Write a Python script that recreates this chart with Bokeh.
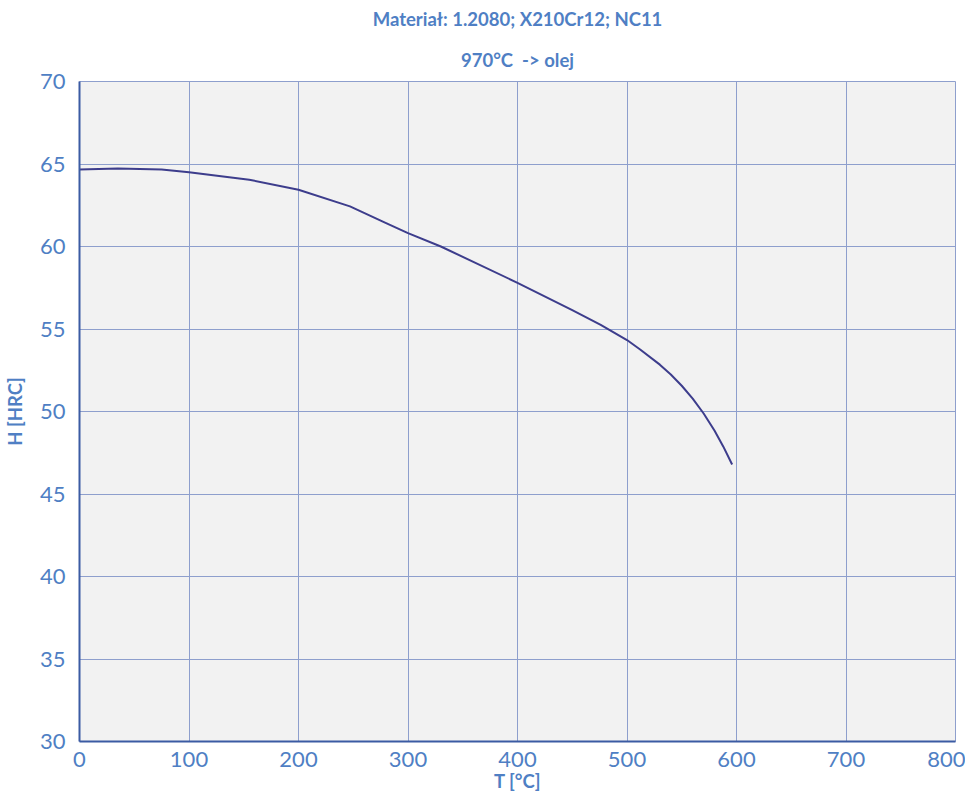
from bokeh.plotting import figure
from bokeh.models import Range1d, FixedTicker, Title
from bokeh.embed import file_html
from bokeh.resources import INLINE

# Data
temp_c = [0, 35, 75, 100, 155, 200, 247, 280, 300, 330, 400, 450, 476, 500, 512, 530,
          540, 550, 560, 570, 580, 588, 596]
hardness_hrc = [64.66, 64.72, 64.66, 64.5, 64.05, 63.44, 62.43, 61.42, 60.81, 60.0, 57.8,
                56.15, 55.25, 54.33, 53.76, 52.84, 52.24, 51.56, 50.78, 49.88, 48.83, 47.87, 46.79]
x_ticks = [0, 100, 200, 300, 400, 500, 600, 700, 800]
y_ticks = [30, 35, 40, 45, 50, 55, 60, 65, 70]
title_line1 = "Materiał: 1.2080; X210Cr12; NC11"
title_line2 = "970°C\u00a0 -> olej"
x_label = "T [°C]"
y_label = "H [HRC]"

TEXT = "#4f7fc4"
GRID = "#8e9fcd"
AXIS = "#3b5ba3"
LINE = "#3d3d8c"
FONT = "Lato"

p = figure(width=965, height=794, output_backend="svg", toolbar_location=None,
           x_range=Range1d(0, 800), y_range=Range1d(30, 70),
           min_border_left=75, min_border_right=10, min_border_bottom=0, min_border_top=0)

p.add_layout(Title(text=title_line2, align="center", text_font=FONT, text_font_size="18.5px",
                   text_font_style="bold", text_color=TEXT, standoff=22), "above")
p.add_layout(Title(text=title_line1, align="center", text_font=FONT, text_font_size="18.5px",
                   text_font_style="bold", text_color=TEXT, standoff=11), "above")

p.background_fill_color = "#f2f2f2"
p.border_fill_color = "white"
p.outline_line_color = GRID
p.outline_line_width = 1

p.line(temp_c, hardness_hrc, line_color=LINE, line_width=2, line_join="round")

for ax, ticks in ((p.xaxis, x_ticks), (p.yaxis, y_ticks)):
    ax.ticker = FixedTicker(ticks=ticks)
    ax.axis_line_color = AXIS
    ax.axis_line_width = 2
    ax.major_tick_line_color = None
    ax.minor_tick_line_color = None
    ax.major_label_text_font = FONT
    ax.major_label_text_font_size = "22px"
    ax.major_label_text_color = TEXT
    ax.axis_label_text_font = FONT
    ax.axis_label_text_font_size = "18.5px"
    ax.axis_label_text_font_style = "bold"
    ax.axis_label_text_color = TEXT

p.xaxis.axis_label = x_label
p.yaxis.axis_label = y_label
p.xaxis.major_label_standoff = 4
p.yaxis.major_label_standoff = 8
p.xaxis.axis_label_standoff = 0
p.yaxis.axis_label_standoff = 11

p.xgrid.ticker = FixedTicker(ticks=x_ticks)
p.ygrid.ticker = FixedTicker(ticks=y_ticks)
for g in (p.xgrid, p.ygrid):
    g.grid_line_color = GRID
    g.grid_line_width = 1

open("out.html", "w").write(file_html(p, INLINE))
